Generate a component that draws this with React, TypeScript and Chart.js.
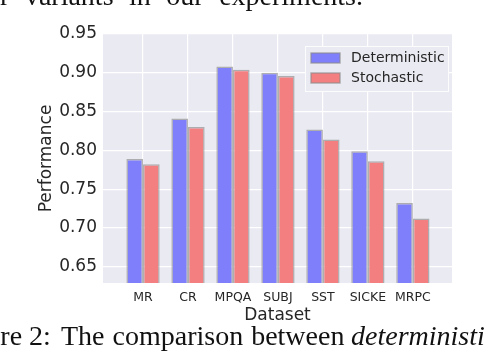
import React, { useEffect, useRef } from "react";
import { Chart, registerables } from "chart.js";

Chart.register(...registerables);

const categories = ["MR", "CR", "MPQA", "SUBJ", "SST", "SICKE", "MRPC"];
const deterministic = [0.789, 0.841, 0.908, 0.9, 0.827, 0.799, 0.732];
const stochastic = [0.782, 0.83, 0.904, 0.896, 0.814, 0.786, 0.712];
const yTicks = [0.65, 0.7, 0.75, 0.8, 0.85, 0.9, 0.95];
const seriesNames = ["Deterministic", "Stochastic"];
const seriesColors = ["#7f7ffb", "#f47f81"];

const FONT = "'DejaVu Sans', sans-serif";
const TEXT = "#262626";
const EDGE = "rgba(140,140,140,0.65)";

const bgPlugin = {
  id: "plotBg",
  beforeDraw(chart: any) {
    const { ctx, chartArea } = chart;
    ctx.save();
    ctx.fillStyle = "#eaeaf2";
    ctx.fillRect(chartArea.left, chartArea.top, chartArea.right - chartArea.left, chartArea.bottom - chartArea.top);
    ctx.restore();
  },
};

const legendPlugin = {
  id: "boxLegend",
  afterDatasetsDraw(chart: any) {
    const { ctx, chartArea } = chart;
    const w = 144;
    const h = 46;
    const x = chartArea.right - 3 - w;
    const y = chartArea.top + 12;
    ctx.save();
    ctx.fillStyle = "#eaeaf2";
    ctx.strokeStyle = "rgba(255,255,255,0.85)";
    ctx.lineWidth = 1;
    ctx.fillRect(x, y, w, h);
    ctx.strokeRect(x + 0.5, y + 0.5, w - 1, h - 1);
    chart.data.datasets.forEach((ds: any, i: number) => {
      const py = y + 7 + i * 20;
      ctx.fillStyle = ds.backgroundColor;
      ctx.fillRect(x + 6, py, 29, 10);
      ctx.strokeStyle = EDGE;
      ctx.lineWidth = 1.5;
      ctx.strokeRect(x + 6, py, 29, 10);
      ctx.fillStyle = TEXT;
      ctx.font = `14px ${FONT}`;
      ctx.textBaseline = "middle";
      ctx.textAlign = "left";
      ctx.fillText(ds.label, x + 46, py + 5.5);
    });
    ctx.restore();
  },
};

export default function App() {
  const ref = useRef<HTMLCanvasElement>(null);

  useEffect(() => {
    if (!ref.current) return;
    const chart = new Chart(ref.current, {
      type: "bar",
      data: {
        datasets: [deterministic, stochastic].map((vals, s) => ({
          label: seriesNames[s],
          data: vals.map((v, i) => ({ x: i, y: v })),
          backgroundColor: seriesColors[s],
          borderColor: EDGE,
          borderWidth: 1.5,
          categoryPercentage: 0.74,
          barPercentage: 1,
        })),
      },
      plugins: [bgPlugin, legendPlugin],
      options: {
        animation: false,
        responsive: false,
        devicePixelRatio: 1,
        layout: { padding: { left: 0, top: 34, right: 32, bottom: 0 } },
        plugins: { legend: { display: false }, tooltip: { enabled: false } },
        scales: {
          x: {
            type: "linear",
            offset: false,
            min: -0.89,
            max: 6.87,
            afterBuildTicks: (scale: any) => {
              scale.ticks = categories.map((_, i) => ({ value: i }));
            },
            afterFit: (scale: any) => {
              scale.height = 73;
            },
            ticks: {
              padding: 7,
              color: TEXT,
              font: { family: FONT, size: 12.5 },
              callback: (v: any) => categories[Math.round(Number(v))] ?? "",
              maxRotation: 0,
              autoSkip: false,
            },
            grid: { color: "#ffffff", lineWidth: 1.2, drawTicks: false, offset: false },
            border: { display: false },
            title: {
              display: true,
              text: "Dataset",
              color: TEXT,
              font: { family: FONT, size: 17, lineHeight: 1.2 },
              padding: { top: 0, bottom: 30 },
            },
          },
          y: {
            type: "linear",
            min: 0.629,
            max: 0.95,
            afterBuildTicks: (scale: any) => {
              scale.ticks = yTicks.map((v) => ({ value: v }));
            },
            afterFit: (scale: any) => {
              scale.width = 103;
            },
            ticks: {
              padding: 6,
              color: TEXT,
              font: { family: FONT, size: 17 },
              callback: (v: any) => Number(v).toFixed(2),
            },
            grid: { color: "#ffffff", lineWidth: 1.2, drawTicks: false },
            border: { display: false },
            title: {
              display: true,
              text: "Performance",
              color: TEXT,
              font: { family: FONT, size: 17, lineHeight: 1.2 },
              padding: { top: 36, bottom: 0 },
            },
          },
        },
      },
    });
    return () => chart.destroy();
  }, []);

  const serif = "'Liberation Serif', 'Times New Roman', serif";
  const base = { position: "absolute" as const, color: "#111", whiteSpace: "nowrap" as const };
  return (
    <div style={{ position: "fixed", left: 0, top: 0, width: 484, height: 356, overflow: "hidden", background: "#fff" }}>
      <canvas ref={ref} width={484} height={356} style={{ position: "absolute", left: 0, top: 0, width: 484, height: 356 }} />
      <div style={{ ...base, right: 121, top: -18.3, font: `28px/28px ${serif}`, wordSpacing: 8.5 }}>
        other variants in our experiments.
      </div>
      <div style={{ ...base, left: -51, top: 321.7, font: `28px/28px ${serif}` }}>Figure 2:</div>
      <div style={{ ...base, left: 61, top: 321.7, font: `28px/28px ${serif}`, wordSpacing: 1 }}>
        The comparison between
      </div>
      <div style={{ ...base, left: 351, top: 321.7, font: `italic 28px/28px ${serif}` }}>deterministic</div>
    </div>
  );
}
